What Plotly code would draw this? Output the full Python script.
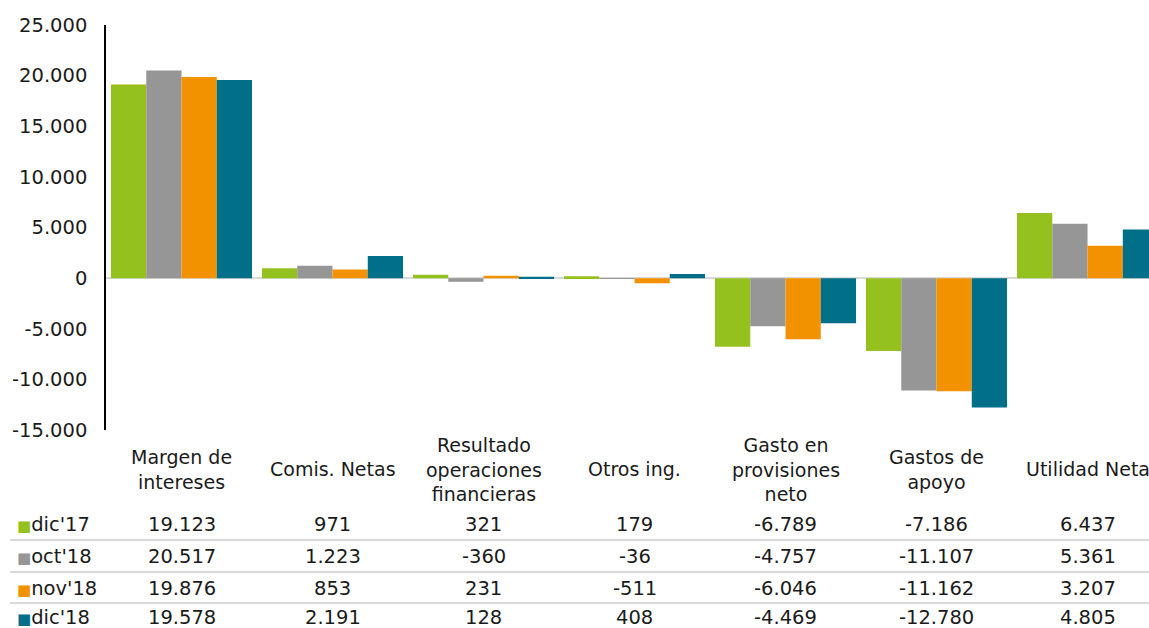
import plotly.graph_objects as go

categories = ["Margen de intereses", "Comis. Netas", "Resultado operaciones financieras",
              "Otros ing.", "Gasto en provisiones neto", "Gastos de apoyo", "Utilidad Neta"]
category_labels = ["Margen de<br>intereses", "Comis. Netas", "Resultado<br>operaciones<br>financieras",
                   "Otros ing.", "Gasto en<br>provisiones<br>neto", "Gastos de<br>apoyo", "Utilidad Neta"]
series_names = ["dic'17", "oct'18", "nov'18", "dic'18"]
dic17 = [19123, 971, 321, 179, -6789, -7186, 6437]
oct18 = [20517, 1223, -360, -36, -4757, -11107, 5361]
nov18 = [19876, 853, 231, -511, -6046, -11162, 3207]
dic18 = [19578, 2191, 128, 408, -4469, -12780, 4805]
series_values = [dic17, oct18, nov18, dic18]
colors = ["#95C11F", "#969696", "#F39200", "#006F87"]
y_ticks = [-15000, -10000, -5000, 0, 5000, 10000, 15000, 20000, 25000]

FONT = "Verdana, DejaVu Sans, sans-serif"
TXT = "#1a1a1a"
FS = 19.5
W, H = 1149, 628
ML, MT, MB = 106, 25, 198
PH = H - MT - MB
PW = W - ML


def fmt(v):
    return f"{v:,}".replace(",", ".")


def py(pix):
    return (H - MB - pix) / PH


def px(pix):
    return (pix - ML) / PW


fig = go.Figure()
for name, vals, col in zip(series_names, series_values, colors):
    fig.add_trace(go.Bar(x=categories, y=vals, name=name, marker_color=col,
                         marker_line_width=0))

annotations = []
for cat, lab in zip(categories, category_labels):
    annotations.append(dict(x=cat, y=py(469), xref="x", yref="paper", text=lab,
                            showarrow=False, yanchor="middle", xanchor="center",
                            font=dict(family=FONT, size=19, color=TXT)))

row_y = [524, 556, 588, 617]
for i, (name, vals, col) in enumerate(zip(series_names, series_values, colors)):
    annotations.append(dict(x=px(15), y=py(row_y[i]), xref="paper", yref="paper",
                            text=f"<span style='color:{col};font-size:15px'>■</span>{name}",
                            showarrow=False, xanchor="left", yanchor="middle",
                            font=dict(family=FONT, size=FS, color=TXT)))
    for cat, v in zip(categories, vals):
        annotations.append(dict(x=cat, y=py(row_y[i]), xref="x", yref="paper",
                                text=fmt(v), showarrow=False, xanchor="center",
                                yanchor="middle",
                                font=dict(family=FONT, size=FS, color=TXT)))

shapes = []
for sep in [540, 572, 603]:
    shapes.append(dict(type="line", xref="paper", yref="paper", x0=px(10), x1=1,
                       y0=py(sep), y1=py(sep), line=dict(color="#D9D9D9", width=2)))

fig.update_layout(
    width=W, height=H,
    margin=dict(l=ML, r=0, t=MT, b=MB, pad=0),
    barmode="group", bargap=0.066, bargroupgap=0,
    plot_bgcolor="white", paper_bgcolor="white",
    showlegend=False,
    font=dict(family=FONT, size=FS, color=TXT),
    annotations=annotations,
    shapes=shapes,
    xaxis=dict(showticklabels=False, range=[-0.5, 6.407], showline=False,
               showgrid=False, zeroline=False, ticks=""),
    yaxis=dict(range=[-15000, 25000], tickvals=y_ticks,
               ticktext=[fmt(t) for t in y_ticks],
               showline=True, linecolor="black", linewidth=1.5,
               zeroline=True, zerolinecolor="#D9D9D9", zerolinewidth=2,
               showgrid=False, ticks="", ticklabelstandoff=13,
               tickfont=dict(family=FONT, size=FS, color=TXT)),
)

fig.write_html("out.html",
               config={"displayModeBar": False},
               post_script="document.body.style.margin='0';"
                           "document.body.style.overflow='hidden';")
